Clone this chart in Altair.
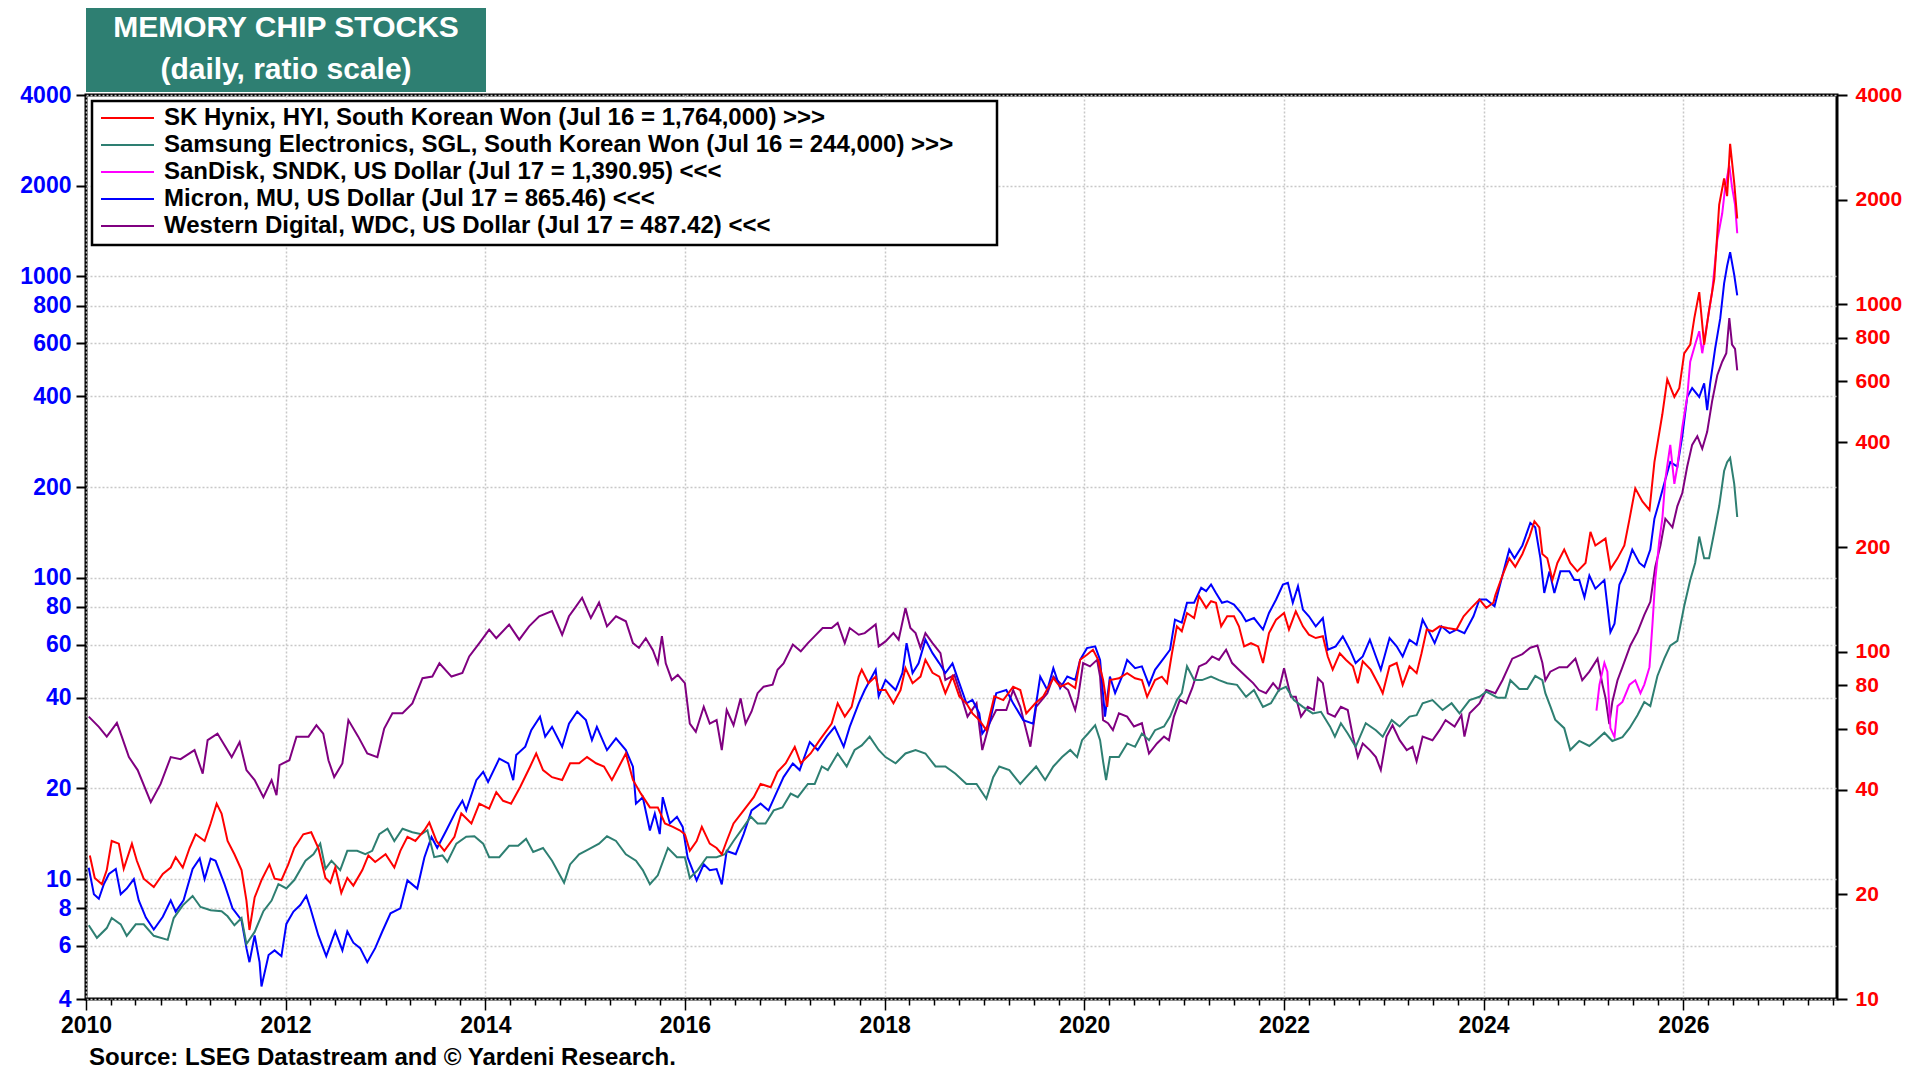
import altair as alt
import pandas as pd
from datetime import datetime, timedelta

FONT = "Liberation Sans, Arial, Helvetica, sans-serif"

series_names = [
    "SK Hynix, HYI, South Korean Won (Jul 16 = 1,764,000) >>>",
    "Samsung Electronics, SGL, South Korean Won (Jul 16 = 244,000) >>>",
    "SanDisk, SNDK, US Dollar (Jul 17 = 1,390.95) <<<",
    "Micron, MU, US Dollar (Jul 17 = 865.46) <<<",
    "Western Digital, WDC, US Dollar (Jul 17 = 487.42) <<<",
]
series_colors = ["#ff0000", "#2e7f72", "#ff00ff", "#0000ff", "#800080"]

left_ticks = [4, 6, 8, 10, 20, 40, 60, 80, 100, 200, 400, 600, 800, 1000, 2000, 4000]
right_ticks = [10, 20, 40, 60, 80, 100, 200, 400, 600, 800, 1000, 2000, 4000]

# (decimal year, price); Korean stocks in thousand won (right axis)
hynix = [
    (2010.04, 25.9), (2010.09, 22.3), (2010.16, 21.4), (2010.21, 23.5), (2010.26, 28.5), (2010.33, 28.0),
    (2010.38, 23.7), (2010.46, 28.0), (2010.51, 25.0), (2010.58, 22.2), (2010.68, 21.0), (2010.77, 22.9),
    (2010.85, 23.9), (2010.90, 25.6), (2010.97, 23.9), (2011.04, 27.2), (2011.10, 29.8), (2011.19, 28.5),
    (2011.25, 32.0), (2011.31, 36.5), (2011.36, 34.2), (2011.42, 28.5), (2011.49, 26.1), (2011.56, 23.5),
    (2011.61, 19.2), (2011.64, 15.8), (2011.69, 19.6), (2011.76, 22.0), (2011.84, 24.4), (2011.89, 22.2),
    (2011.96, 22.0), (2012.03, 24.4), (2012.09, 27.2), (2012.18, 29.8), (2012.26, 30.2), (2012.33, 27.2),
    (2012.40, 22.3), (2012.45, 21.6), (2012.50, 23.9), (2012.56, 20.2), (2012.62, 22.3), (2012.68, 21.2),
    (2012.77, 23.5), (2012.83, 25.9), (2012.90, 24.8), (2013.00, 26.1), (2013.09, 23.9), (2013.15, 26.7),
    (2013.22, 29.3), (2013.30, 28.5), (2013.39, 30.6), (2013.44, 32.2), (2013.51, 28.5), (2013.59, 26.7),
    (2013.69, 29.3), (2013.76, 34.2), (2013.86, 32.0), (2013.94, 36.5), (2014.04, 35.3), (2014.11, 39.4),
    (2014.18, 37.2), (2014.26, 36.5), (2014.35, 40.7), (2014.45, 46.7), (2014.51, 50.9), (2014.58, 45.6),
    (2014.67, 43.5), (2014.77, 42.7), (2014.85, 47.7), (2014.94, 47.7), (2015.02, 49.7), (2015.11, 47.7),
    (2015.19, 46.7), (2015.27, 42.7), (2015.34, 46.7), (2015.41, 50.9), (2015.48, 42.7), (2015.56, 39.0),
    (2015.65, 35.6), (2015.73, 35.6), (2015.80, 32.0), (2015.88, 31.3), (2015.95, 30.6), (2016.00, 29.8),
    (2016.05, 26.7), (2016.12, 28.5), (2016.17, 31.3), (2016.25, 28.0), (2016.32, 27.2), (2016.37, 26.1),
    (2016.42, 28.5), (2016.49, 32.0), (2016.59, 34.9), (2016.69, 38.1), (2016.76, 41.6), (2016.86, 40.7),
    (2016.93, 45.1), (2017.01, 47.7), (2017.10, 53.2), (2017.16, 47.7), (2017.26, 50.9), (2017.35, 55.6),
    (2017.47, 62.1), (2017.53, 71.0), (2017.60, 65.0), (2017.67, 69.3), (2017.74, 84.7), (2017.77, 88.7),
    (2017.84, 81.1), (2017.91, 84.7), (2017.94, 77.5), (2018.01, 77.5), (2018.09, 71.0), (2018.16, 77.5),
    (2018.21, 89.6), (2018.28, 81.1), (2018.36, 84.7), (2018.41, 94.7), (2018.48, 86.9), (2018.55, 84.7),
    (2018.61, 75.9), (2018.68, 84.7), (2018.75, 74.3), (2018.82, 71.0), (2018.88, 66.4), (2018.95, 63.5),
    (2019.02, 59.4), (2019.10, 74.3), (2019.19, 72.5), (2019.29, 79.2), (2019.36, 77.5), (2019.42, 66.4),
    (2019.51, 71.0), (2019.59, 74.3), (2019.69, 83.8), (2019.76, 79.2), (2019.84, 81.1), (2019.91, 78.5),
    (2019.96, 94.7), (2020.03, 97.9), (2020.09, 101.2), (2020.14, 94.7), (2020.19, 82.8), (2020.23, 69.3),
    (2020.26, 82.8), (2020.35, 83.8), (2020.43, 86.7), (2020.51, 83.8), (2020.58, 82.8), (2020.63, 74.1),
    (2020.71, 82.8), (2020.78, 84.7), (2020.83, 81.1), (2020.88, 98.9), (2020.93, 118.2), (2020.98, 114.4),
    (2021.03, 129.1), (2021.10, 124.8), (2021.15, 144.5), (2021.22, 133.6), (2021.27, 139.6), (2021.32, 138.2),
    (2021.37, 118.2), (2021.43, 126.4), (2021.50, 126.4), (2021.55, 118.2), (2021.60, 103.5), (2021.67, 105.7),
    (2021.74, 103.5), (2021.79, 92.7), (2021.85, 113.0), (2021.92, 123.6), (2022.00, 129.1), (2022.05, 115.7),
    (2022.12, 130.6), (2022.19, 118.2), (2022.25, 111.9), (2022.32, 109.4), (2022.39, 110.7), (2022.44, 96.8),
    (2022.49, 88.7), (2022.56, 98.9), (2022.62, 94.7), (2022.69, 90.7), (2022.74, 81.1), (2022.79, 93.8),
    (2022.87, 88.7), (2022.96, 79.2), (2022.99, 75.9), (2023.06, 90.7), (2023.13, 92.7), (2023.19, 80.2),
    (2023.26, 90.7), (2023.33, 86.7), (2023.38, 98.9), (2023.43, 115.7), (2023.49, 114.4), (2023.56, 118.2),
    (2023.64, 116.9), (2023.73, 115.7), (2023.80, 126.4), (2023.86, 132.1), (2023.96, 141.3), (2024.03, 133.6),
    (2024.10, 138.2), (2024.12, 145.2), (2024.19, 165.5), (2024.26, 185.5), (2024.32, 175.4), (2024.39, 191.0),
    (2024.46, 214.3), (2024.51, 237.2), (2024.56, 227.6), (2024.59, 191.0), (2024.64, 185.5), (2024.69, 160.8),
    (2024.74, 179.9), (2024.81, 196.5), (2024.87, 179.9), (2024.94, 170.2), (2025.02, 179.9), (2025.07, 221.0),
    (2025.12, 202.0), (2025.22, 211.5), (2025.27, 172.9), (2025.34, 185.5), (2025.41, 202.0), (2025.46, 241.0),
    (2025.52, 295.0), (2025.59, 270.4), (2025.66, 255.6), (2025.71, 351.0), (2025.79, 482.0), (2025.84, 608.0),
    (2025.91, 541.0), (2025.96, 573.0), (2026.01, 722.0), (2026.07, 765.0), (2026.11, 912.0), (2026.16, 1083.0),
    (2026.21, 765.0), (2026.26, 962.0), (2026.31, 1181.0), (2026.36, 1933.0), (2026.41, 2301.0), (2026.44, 2046.0),
    (2026.47, 2893.0), (2026.51, 2233.0), (2026.54, 1764.0),
]

samsung = [
    (2010.03, 16.3), (2010.11, 15.0), (2010.21, 16.0), (2010.26, 17.1), (2010.35, 16.4), (2010.41, 15.2),
    (2010.50, 16.4), (2010.58, 16.4), (2010.68, 15.2), (2010.82, 14.8), (2010.88, 17.1), (2010.97, 18.6),
    (2011.07, 19.8), (2011.15, 18.4), (2011.25, 18.0), (2011.36, 17.9), (2011.42, 17.3), (2011.49, 16.3),
    (2011.56, 17.1), (2011.61, 14.4), (2011.69, 15.6), (2011.78, 17.9), (2011.86, 19.2), (2011.93, 21.4),
    (2012.01, 20.8), (2012.09, 22.0), (2012.20, 25.0), (2012.28, 26.1), (2012.35, 28.0), (2012.40, 23.7),
    (2012.46, 25.0), (2012.55, 23.5), (2012.62, 26.7), (2012.72, 26.7), (2012.80, 26.1), (2012.87, 26.7),
    (2012.94, 29.8), (2013.02, 30.9), (2013.09, 28.5), (2013.17, 30.9), (2013.27, 30.2), (2013.36, 29.8),
    (2013.42, 30.6), (2013.49, 25.6), (2013.57, 25.9), (2013.62, 24.8), (2013.71, 28.0), (2013.81, 29.3),
    (2013.89, 29.4), (2013.98, 28.0), (2014.04, 25.6), (2014.14, 25.6), (2014.24, 27.6), (2014.33, 27.6),
    (2014.41, 28.9), (2014.48, 26.5), (2014.58, 27.2), (2014.67, 25.0), (2014.79, 21.6), (2014.85, 24.4),
    (2014.94, 26.1), (2015.04, 27.0), (2015.14, 28.0), (2015.22, 29.4), (2015.31, 28.5), (2015.41, 26.1),
    (2015.51, 25.0), (2015.58, 23.5), (2015.65, 21.4), (2015.73, 22.7), (2015.83, 27.2), (2015.92, 25.6),
    (2016.00, 25.6), (2016.05, 22.3), (2016.13, 23.5), (2016.22, 25.6), (2016.32, 25.6), (2016.40, 26.1),
    (2016.49, 28.5), (2016.59, 31.3), (2016.66, 33.5), (2016.73, 32.0), (2016.81, 32.0), (2016.89, 34.9),
    (2016.98, 35.6), (2017.06, 39.0), (2017.13, 38.1), (2017.23, 41.6), (2017.30, 41.6), (2017.37, 46.7),
    (2017.43, 45.6), (2017.53, 50.9), (2017.62, 46.7), (2017.70, 52.1), (2017.77, 53.7), (2017.85, 56.9),
    (2017.94, 52.1), (2018.01, 49.7), (2018.11, 47.7), (2018.21, 50.9), (2018.31, 52.1), (2018.41, 50.9),
    (2018.51, 46.7), (2018.61, 46.7), (2018.71, 44.5), (2018.82, 41.6), (2018.92, 41.6), (2019.02, 37.7),
    (2019.09, 43.5), (2019.15, 46.7), (2019.25, 45.6), (2019.36, 41.6), (2019.42, 43.5), (2019.52, 46.7),
    (2019.61, 42.7), (2019.69, 46.7), (2019.78, 49.7), (2019.86, 52.1), (2019.93, 49.7), (2019.98, 55.6),
    (2020.04, 58.1), (2020.11, 61.4), (2020.16, 55.6), (2020.19, 48.3), (2020.22, 42.7), (2020.26, 49.7),
    (2020.35, 49.7), (2020.43, 54.4), (2020.51, 53.2), (2020.58, 58.1), (2020.65, 55.6), (2020.71, 59.4),
    (2020.80, 60.9), (2020.86, 65.0), (2020.93, 72.5), (2020.98, 75.9), (2021.03, 90.7), (2021.10, 82.8),
    (2021.18, 82.8), (2021.27, 84.7), (2021.35, 82.8), (2021.43, 81.1), (2021.53, 80.2), (2021.62, 74.1),
    (2021.70, 77.5), (2021.79, 69.3), (2021.87, 71.0), (2021.95, 77.5), (2022.02, 79.2), (2022.10, 72.5),
    (2022.19, 69.3), (2022.29, 66.4), (2022.37, 67.1), (2022.46, 60.9), (2022.51, 56.9), (2022.57, 62.2),
    (2022.64, 58.1), (2022.72, 53.2), (2022.82, 62.2), (2022.92, 59.4), (2022.99, 56.9), (2023.08, 63.5),
    (2023.16, 60.9), (2023.26, 65.0), (2023.33, 65.6), (2023.39, 71.0), (2023.49, 72.5), (2023.59, 67.9),
    (2023.68, 71.0), (2023.76, 66.4), (2023.86, 72.5), (2023.96, 74.1), (2024.03, 76.7), (2024.14, 73.7),
    (2024.22, 73.7), (2024.27, 82.7), (2024.36, 78.0), (2024.44, 78.0), (2024.52, 85.1), (2024.59, 82.7),
    (2024.62, 75.9), (2024.67, 69.7), (2024.72, 63.7), (2024.81, 60.2), (2024.87, 52.1), (2024.96, 55.3),
    (2025.06, 53.5), (2025.12, 55.3), (2025.21, 58.4), (2025.29, 55.3), (2025.39, 56.7), (2025.46, 60.2),
    (2025.54, 65.6), (2025.61, 71.6), (2025.67, 69.7), (2025.74, 85.1), (2025.81, 95.4), (2025.87, 104.0),
    (2025.94, 107.3), (2026.01, 135.2), (2026.07, 160.8), (2026.12, 179.9), (2026.16, 214.3), (2026.21, 185.5),
    (2026.26, 185.5), (2026.31, 221.0), (2026.36, 262.4), (2026.41, 331.0), (2026.44, 351.0), (2026.47, 361.0),
    (2026.51, 304.0), (2026.54, 244.0),
]

sandisk = [
    (2025.13, 36.2), (2025.16, 44.2), (2025.21, 52.2), (2025.24, 48.8), (2025.27, 31.7), (2025.31, 29.6),
    (2025.34, 37.5), (2025.39, 38.7), (2025.46, 44.2), (2025.52, 45.7), (2025.57, 41.4), (2025.61, 44.2),
    (2025.66, 50.5), (2025.69, 70.4), (2025.72, 98.3), (2025.76, 133.0), (2025.79, 157.0), (2025.82, 212.0),
    (2025.87, 276.0), (2025.91, 205.0), (2025.94, 234.0), (2025.99, 316.0), (2026.04, 398.0), (2026.07, 521.0),
    (2026.12, 594.0), (2026.16, 658.0), (2026.19, 556.0), (2026.24, 703.0), (2026.29, 887.0), (2026.34, 1321.0),
    (2026.39, 1617.0), (2026.42, 1978.0), (2026.46, 2333.0), (2026.49, 1978.0), (2026.52, 1731.0), (2026.54, 1390.95),
]

micron = [
    (2010.03, 10.9), (2010.08, 8.9), (2010.13, 8.6), (2010.18, 9.6), (2010.23, 10.4), (2010.30, 10.8),
    (2010.35, 8.9), (2010.41, 9.3), (2010.48, 10.0), (2010.53, 8.5), (2010.60, 7.45), (2010.68, 6.8),
    (2010.77, 7.5), (2010.85, 8.5), (2010.90, 7.8), (2010.98, 8.5), (2011.07, 10.8), (2011.14, 11.7),
    (2011.19, 10.0), (2011.25, 11.7), (2011.30, 11.5), (2011.39, 9.6), (2011.47, 8.0), (2011.56, 7.3),
    (2011.61, 5.9), (2011.64, 5.3), (2011.69, 6.5), (2011.74, 5.3), (2011.76, 4.4), (2011.83, 5.6),
    (2011.89, 5.8), (2011.96, 5.55), (2012.01, 7.1), (2012.08, 7.8), (2012.15, 8.2), (2012.21, 8.8),
    (2012.25, 8.0), (2012.33, 6.5), (2012.41, 5.55), (2012.50, 6.7), (2012.57, 5.8), (2012.62, 6.7),
    (2012.68, 6.15), (2012.75, 5.9), (2012.82, 5.3), (2012.90, 5.9), (2012.97, 6.7), (2013.05, 7.7),
    (2013.15, 8.0), (2013.22, 9.9), (2013.32, 9.3), (2013.39, 11.8), (2013.46, 13.8), (2013.52, 12.7),
    (2013.61, 14.5), (2013.71, 16.9), (2013.77, 18.2), (2013.81, 16.9), (2013.91, 21.3), (2013.98, 22.7),
    (2014.03, 21.0), (2014.14, 25.1), (2014.23, 24.2), (2014.28, 21.3), (2014.31, 25.8), (2014.40, 27.5),
    (2014.46, 31.2), (2014.55, 34.6), (2014.60, 29.7), (2014.67, 32.0), (2014.77, 27.5), (2014.84, 32.8),
    (2014.92, 36.0), (2015.01, 33.7), (2015.07, 28.9), (2015.12, 32.0), (2015.22, 26.8), (2015.31, 29.3),
    (2015.41, 26.8), (2015.48, 23.6), (2015.51, 17.8), (2015.58, 18.7), (2015.65, 14.5), (2015.70, 16.5),
    (2015.75, 14.1), (2015.78, 18.7), (2015.85, 15.3), (2015.92, 16.1), (2015.98, 14.9), (2016.03, 11.8),
    (2016.12, 9.9), (2016.19, 11.2), (2016.25, 10.7), (2016.32, 10.8), (2016.37, 9.6), (2016.42, 12.4),
    (2016.51, 12.1), (2016.59, 14.1), (2016.67, 16.9), (2016.76, 17.8), (2016.84, 16.9), (2016.93, 19.7),
    (2016.99, 21.8), (2017.08, 24.2), (2017.15, 23.0), (2017.25, 28.5), (2017.33, 26.8), (2017.42, 29.7),
    (2017.50, 32.0), (2017.59, 27.5), (2017.65, 32.0), (2017.74, 38.3), (2017.80, 42.4), (2017.91, 49.5),
    (2017.94, 40.4), (2018.01, 45.8), (2018.11, 42.4), (2018.18, 48.3), (2018.22, 60.7), (2018.28, 48.3),
    (2018.34, 52.0), (2018.41, 62.3), (2018.48, 56.2), (2018.55, 52.0), (2018.61, 48.3), (2018.68, 52.0),
    (2018.75, 44.7), (2018.82, 38.3), (2018.88, 39.3), (2018.95, 35.5), (2018.98, 30.4), (2019.05, 32.8),
    (2019.12, 41.4), (2019.22, 42.4), (2019.29, 38.3), (2019.39, 33.7), (2019.49, 32.8), (2019.56, 47.0),
    (2019.63, 42.4), (2019.69, 50.1), (2019.76, 43.0), (2019.83, 47.0), (2019.91, 45.8), (2019.96, 53.4),
    (2020.03, 58.4), (2020.11, 59.2), (2020.16, 53.4), (2020.21, 34.6), (2020.26, 47.0), (2020.31, 41.4),
    (2020.38, 47.0), (2020.43, 53.4), (2020.51, 50.1), (2020.58, 50.8), (2020.65, 44.1), (2020.71, 49.5),
    (2020.80, 54.2), (2020.86, 57.7), (2020.91, 72.6), (2020.98, 71.0), (2021.03, 82.6), (2021.10, 82.6),
    (2021.17, 92.6), (2021.22, 90.3), (2021.27, 95.0), (2021.32, 89.0), (2021.38, 82.6), (2021.43, 83.6),
    (2021.50, 81.5), (2021.57, 76.4), (2021.62, 71.7), (2021.70, 73.5), (2021.79, 67.3), (2021.85, 76.4),
    (2021.92, 84.7), (2021.99, 95.0), (2022.04, 96.2), (2022.09, 82.6), (2022.14, 93.8), (2022.19, 78.4),
    (2022.25, 74.5), (2022.32, 69.0), (2022.39, 73.5), (2022.44, 57.7), (2022.52, 59.2), (2022.59, 63.9),
    (2022.66, 57.7), (2022.72, 52.1), (2022.79, 54.8), (2022.86, 62.3), (2022.92, 54.8), (2022.97, 49.5),
    (2023.06, 63.1), (2023.13, 59.2), (2023.19, 54.8), (2023.26, 62.3), (2023.33, 59.9), (2023.39, 72.6),
    (2023.46, 65.5), (2023.51, 60.7), (2023.58, 69.0), (2023.66, 65.5), (2023.73, 67.3), (2023.81, 65.5),
    (2023.90, 74.5), (2023.96, 84.7), (2024.03, 84.7), (2024.11, 80.4), (2024.19, 101.7), (2024.26, 124.0),
    (2024.31, 116.0), (2024.39, 128.0), (2024.47, 152.0), (2024.52, 147.0), (2024.57, 116.0), (2024.61, 89.0),
    (2024.66, 105.0), (2024.71, 89.0), (2024.77, 105.0), (2024.86, 105.0), (2024.91, 98.3), (2024.96, 98.3),
    (2025.01, 86.1), (2025.06, 101.7), (2025.12, 92.0), (2025.21, 98.3), (2025.27, 66.0), (2025.31, 70.4),
    (2025.36, 95.0), (2025.42, 105.0), (2025.49, 124.0), (2025.56, 112.0), (2025.61, 108.7), (2025.67, 124.0),
    (2025.71, 157.0), (2025.76, 179.0), (2025.82, 212.0), (2025.87, 242.0), (2025.94, 234.0), (2025.99, 295.0),
    (2026.04, 398.0), (2026.09, 426.0), (2026.16, 398.0), (2026.21, 442.0), (2026.24, 360.0), (2026.27, 442.0),
    (2026.32, 575.0), (2026.37, 727.0), (2026.41, 949.0), (2026.44, 1083.0), (2026.47, 1204.0), (2026.51, 1012.0),
    (2026.54, 865.46),
]

wdc = [
    (2010.03, 34.6), (2010.13, 32.0), (2010.21, 29.7), (2010.31, 33.0), (2010.36, 29.7), (2010.43, 25.4),
    (2010.52, 23.0), (2010.65, 18.0), (2010.75, 20.7), (2010.85, 25.4), (2010.95, 25.0), (2011.09, 26.8),
    (2011.17, 22.4), (2011.22, 28.9), (2011.32, 30.4), (2011.46, 25.4), (2011.54, 28.5), (2011.61, 23.0),
    (2011.69, 21.3), (2011.78, 18.7), (2011.86, 21.3), (2011.91, 19.0), (2011.94, 23.9), (2012.04, 24.8),
    (2012.11, 29.7), (2012.23, 29.7), (2012.31, 32.4), (2012.38, 30.4), (2012.43, 24.8), (2012.49, 21.8),
    (2012.57, 24.2), (2012.63, 33.7), (2012.73, 29.7), (2012.82, 26.1), (2012.92, 25.4), (2012.99, 31.6),
    (2013.07, 35.5), (2013.17, 35.5), (2013.27, 38.3), (2013.37, 46.4), (2013.47, 47.0), (2013.54, 52.0),
    (2013.66, 47.0), (2013.77, 48.3), (2013.84, 54.8), (2013.94, 60.7), (2014.04, 67.3), (2014.11, 63.0),
    (2014.24, 69.9), (2014.34, 62.3), (2014.44, 69.0), (2014.54, 74.5), (2014.67, 77.5), (2014.77, 64.7),
    (2014.84, 74.5), (2014.90, 79.4), (2014.97, 85.8), (2015.06, 73.5), (2015.14, 82.8), (2015.22, 69.0),
    (2015.31, 74.5), (2015.41, 71.7), (2015.48, 60.7), (2015.54, 58.5), (2015.61, 63.0), (2015.68, 57.5),
    (2015.73, 52.0), (2015.77, 64.0), (2015.81, 52.0), (2015.87, 45.8), (2015.93, 47.6), (2016.00, 44.7),
    (2016.05, 32.8), (2016.11, 30.8), (2016.19, 37.3), (2016.25, 32.8), (2016.32, 33.7), (2016.37, 26.8),
    (2016.42, 36.4), (2016.49, 32.4), (2016.56, 39.8), (2016.61, 32.8), (2016.67, 36.0), (2016.73, 41.4),
    (2016.79, 43.5), (2016.88, 44.2), (2016.93, 49.5), (2016.99, 52.0), (2017.08, 60.0), (2017.16, 57.0),
    (2017.23, 60.7), (2017.30, 64.0), (2017.38, 68.1), (2017.47, 68.1), (2017.53, 70.8), (2017.60, 60.7),
    (2017.65, 68.1), (2017.74, 64.7), (2017.80, 65.5), (2017.91, 70.0), (2017.94, 59.2), (2018.01, 61.5),
    (2018.09, 65.5), (2018.14, 62.3), (2018.21, 79.4), (2018.26, 68.1), (2018.31, 65.5), (2018.36, 58.5),
    (2018.41, 65.5), (2018.48, 60.7), (2018.56, 56.2), (2018.61, 45.8), (2018.70, 47.6), (2018.75, 42.4),
    (2018.83, 34.6), (2018.92, 38.3), (2018.98, 26.8), (2019.05, 32.8), (2019.12, 36.4), (2019.22, 36.4),
    (2019.29, 42.4), (2019.36, 37.3), (2019.46, 27.5), (2019.52, 37.3), (2019.63, 41.4), (2019.69, 47.0),
    (2019.78, 44.1), (2019.84, 42.4), (2019.91, 36.4), (2019.94, 40.3), (2019.99, 52.1), (2020.06, 50.8),
    (2020.13, 53.4), (2020.16, 47.0), (2020.19, 33.7), (2020.24, 32.9), (2020.29, 31.2), (2020.35, 35.5),
    (2020.43, 34.6), (2020.50, 32.1), (2020.58, 32.9), (2020.61, 29.7), (2020.65, 26.1), (2020.73, 28.2),
    (2020.80, 29.7), (2020.85, 28.9), (2020.90, 34.6), (2020.96, 39.3), (2021.02, 38.3), (2021.08, 43.0),
    (2021.15, 50.8), (2021.22, 52.1), (2021.28, 54.8), (2021.35, 53.4), (2021.42, 57.7), (2021.48, 52.1),
    (2021.55, 49.5), (2021.62, 47.0), (2021.69, 44.7), (2021.75, 42.4), (2021.82, 41.4), (2021.89, 44.7),
    (2021.95, 42.4), (2022.00, 50.1), (2022.07, 40.3), (2022.12, 40.3), (2022.17, 34.6), (2022.24, 37.3),
    (2022.30, 36.4), (2022.34, 46.4), (2022.39, 44.7), (2022.44, 35.5), (2022.51, 34.6), (2022.57, 37.3),
    (2022.64, 36.4), (2022.69, 29.7), (2022.74, 25.4), (2022.79, 28.2), (2022.86, 26.8), (2022.92, 25.4),
    (2022.97, 23.0), (2023.03, 29.7), (2023.09, 32.4), (2023.16, 28.9), (2023.23, 26.8), (2023.29, 27.5),
    (2023.33, 24.6), (2023.39, 29.7), (2023.49, 28.9), (2023.56, 31.2), (2023.62, 33.7), (2023.71, 32.1),
    (2023.78, 35.0), (2023.81, 29.7), (2023.86, 35.5), (2023.96, 38.3), (2024.03, 42.4), (2024.12, 41.4),
    (2024.19, 45.7), (2024.29, 53.9), (2024.39, 55.8), (2024.47, 58.6), (2024.54, 59.6), (2024.59, 52.2),
    (2024.62, 45.7), (2024.67, 48.8), (2024.76, 50.5), (2024.84, 50.5), (2024.92, 53.9), (2024.99, 45.7),
    (2025.06, 48.8), (2025.14, 53.9), (2025.19, 44.2), (2025.22, 40.0), (2025.26, 32.7), (2025.29, 38.7),
    (2025.34, 45.7), (2025.39, 50.5), (2025.47, 59.6), (2025.54, 66.0), (2025.61, 75.3), (2025.67, 83.2),
    (2025.72, 108.7), (2025.77, 128.0), (2025.82, 157.0), (2025.89, 147.0), (2025.94, 173.0), (2025.99, 191.0),
    (2026.04, 234.0), (2026.09, 276.0), (2026.14, 295.0), (2026.19, 268.0), (2026.24, 305.0), (2026.29, 385.0),
    (2026.34, 470.0), (2026.39, 521.0), (2026.43, 556.0), (2026.46, 727.0), (2026.49, 594.0), (2026.52, 575.0),
    (2026.54, 487.42),
]


def to_date(t):
    y = int(t)
    return (datetime(y, 1, 1) + timedelta(days=(t - y) * 365.25)).strftime("%Y-%m-%d")


def frame(name, pairs):
    return pd.DataFrame({"date": [to_date(t) for t, _ in pairs],
                         "value": [v for _, v in pairs],
                         "series": name})


left_df = pd.concat([frame(series_names[4], wdc), frame(series_names[3], micron),
                     frame(series_names[2], sandisk)], ignore_index=True)
right_df = pd.concat([frame(series_names[1], samsung), frame(series_names[0], hynix)],
                     ignore_index=True)

W, H = 1751, 904
GRID = "#c8c8c8"

quarters = [alt.DateTime(year=y, month=m, date=1)
            for y in range(2010, 2028) for m in (1, 4, 7, 10) if (y, m) <= (2027, 7)]
is_major = "month(datum.value) == 0 && year(datum.value) % 2 == 0"

x_enc = alt.X(
    "date:T",
    scale=alt.Scale(domain=[alt.DateTime(year=2010, month=1, date=1),
                            alt.DateTime(year=2027, month=7, date=17)]),
    axis=alt.Axis(
        values=quarters,
        labelExpr=f"{is_major} ? timeFormat(datum.value, '%Y') : ''",
        grid=True, gridColor=GRID, gridDash=[2, 2], gridWidth=1.5,
        gridOpacity={"condition": {"test": is_major, "value": 1}, "value": 0},
        tickSize={"condition": {"test": is_major, "value": 11}, "value": 6},
        tickColor="black", tickWidth=1.5, domain=False,
        labelFont=FONT, labelFontSize=23, labelFontWeight="bold", labelColor="black",
        labelPadding=4, labelOverlap=False, labelFlush=False, title=None,
    ),
)

color_enc = alt.Color("series:N", scale=alt.Scale(domain=series_names, range=series_colors), legend=None)

left_lines = alt.Chart(left_df).mark_line(strokeWidth=2, clip=True).encode(
    x=x_enc,
    y=alt.Y("value:Q",
            scale=alt.Scale(type="log", domain=[4, 4000]),
            axis=alt.Axis(orient="left", values=left_ticks, format="d", title=None,
                          grid=True, gridColor=GRID, gridDash=[2, 2], gridWidth=1.5,
                          tickSize=10, tickColor="black", tickWidth=2, domain=False,
                          labelFont=FONT, labelFontSize=23, labelFontWeight="bold",
                          labelColor="#0000ff", labelPadding=5, labelOverlap=False,
                          minExtent=78, maxExtent=78)),
    color=color_enc,
)

right_lines = alt.Chart(right_df).mark_line(strokeWidth=2, clip=True).encode(
    x=x_enc,
    y=alt.Y("value:Q",
            scale=alt.Scale(type="log", domain=[10, 4000]),
            axis=alt.Axis(orient="right", values=right_ticks, format="d", title=None,
                          grid=False, tickSize=10, tickColor="black", tickWidth=2, domain=False,
                          labelFont=FONT, labelFontSize=21, labelFontWeight="bold",
                          labelColor="#ff0000", labelPadding=8, labelOverlap=False,
                          minExtent=72, maxExtent=72)),
    color=color_enc,
)

one = pd.DataFrame({"k": [0]})

title_box = alt.Chart(one).mark_rect(color="#2e7f72").encode(
    x=alt.value(0), x2=alt.value(400), y=alt.value(-87), y2=alt.value(-3))
title_1 = alt.Chart(one).mark_text(text="MEMORY CHIP STOCKS", color="white", font=FONT,
                                   fontSize=30, fontWeight="bold", align="center",
                                   baseline="middle").encode(x=alt.value(200), y=alt.value(-67))
title_2 = alt.Chart(one).mark_text(text="(daily, ratio scale)", color="white", font=FONT,
                                   fontSize=30, fontWeight="bold", align="center",
                                   baseline="middle").encode(x=alt.value(200), y=alt.value(-25))

legend_box = alt.Chart(one).mark_rect(fill="white", stroke="black", strokeWidth=2.5).encode(
    x=alt.value(6), x2=alt.value(911), y=alt.value(6), y2=alt.value(150))

legend_layers = []
for i, (name, col) in enumerate(zip(series_names, series_colors)):
    yy = 23 + 27 * i
    legend_layers.append(
        alt.Chart(one).mark_rule(color=col, strokeWidth=2).encode(
            x=alt.value(15), x2=alt.value(68), y=alt.value(yy)))
    legend_layers.append(
        alt.Chart(one).mark_text(text=name, color="black", font=FONT, fontSize=24,
                                 fontWeight="bold", align="left", baseline="middle").encode(
            x=alt.value(78), y=alt.value(yy)))

source = alt.Chart(one).mark_text(text="Source: LSEG Datastream and \u00a9 Yardeni Research.",
                                  color="black", font=FONT, fontSize=24, fontWeight="bold",
                                  align="left", baseline="middle").encode(
    x=alt.value(3), y=alt.value(963))

chart = alt.layer(
    left_lines, right_lines, title_box, title_1, title_2, legend_box, *legend_layers, source
).resolve_scale(y="independent").properties(
    width=W, height=H, padding=0, background="white"
).configure_view(stroke="black", strokeWidth=3)

chart.save("out.html", embed_options={"renderer": "svg", "actions": False})
